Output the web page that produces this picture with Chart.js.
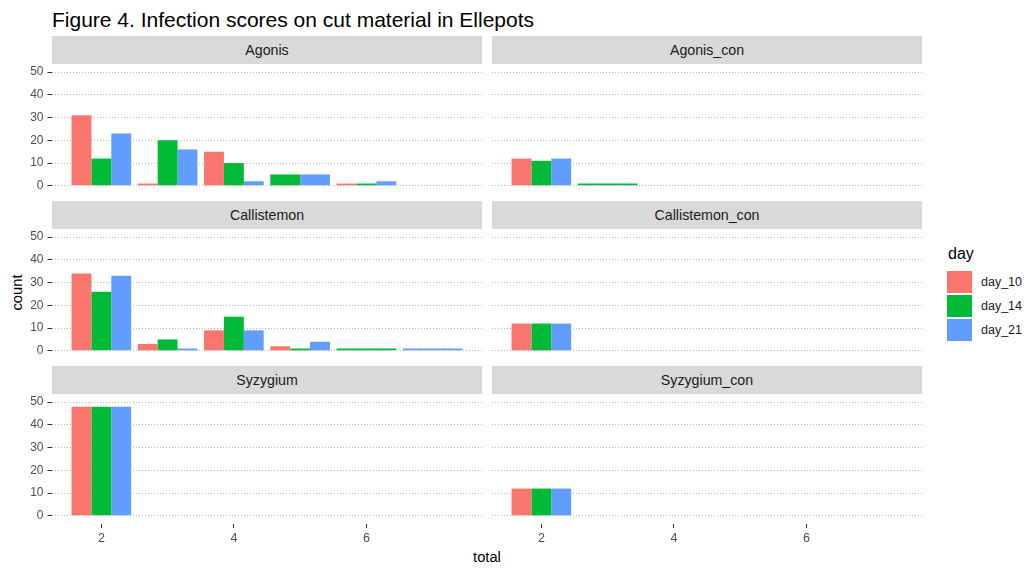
<!DOCTYPE html>
<html>
<head>
<meta charset="utf-8">
<script src="https://cdn.jsdelivr.net/npm/chart.js@4.4.1/dist/chart.umd.min.js"></script>
<style>
  html, body { margin: 0; padding: 0; background: #fff; }
  body { width: 1036px; height: 569px; position: relative; overflow: hidden;
         font-family: "Liberation Sans", Arial, sans-serif; }
  .txt { position: absolute; white-space: nowrap; }
  .strip { position: absolute; background: #d9d9d9; color: #1a1a1a; font-size: 14.2px;
           display: flex; align-items: center; justify-content: center; }
  .key { position: absolute; width: 25px; height: 22px; }
  .keylab { position: absolute; font-size: 12.5px; line-height: 22px; color: #1a1a1a; }
  canvas { position: absolute; }
</style>
</head>
<body>
<div class="txt" id="title" style="left:52px;top:9px;font-size:21px;line-height:21px;color:#000;">Figure 4. Infection scores on cut material in Ellepots</div>
<div class="txt" id="xtitle" style="left:437px;top:550px;width:100px;text-align:center;font-size:14.7px;line-height:15px;color:#000;">total</div>
<div class="txt" id="ytitle" style="left:-33px;top:285px;width:100px;text-align:center;font-size:14.7px;line-height:15px;color:#000;transform:rotate(-90deg);">count</div>
<div id="legend"></div>
<div id="panels"></div>

<script>
// x positions (the "total" score) shared by every facet
const totals = [2, 3, 4, 5, 6, 7];
const totalTicks = [2, 4, 6];
const countTicks = [0, 10, 20, 30, 40, 50];

const days = ['day_10', 'day_14', 'day_21'];
const dayColors = ['#F8766D', '#00BA38', '#619CFF'];

const panelNames = ['Agonis', 'Agonis_con', 'Callistemon', 'Callistemon_con', 'Syzygium', 'Syzygium_con'];

// counts per facet and day, aligned with `totals` (null = nothing recorded)
const agonisDay10 = [31, 1, 15, null, 1, null];
const agonisDay14 = [12, 20, 10, 5, 1, null];
const agonisDay21 = [23, 16, 2, 5, 2, null];

const agonisConDay10 = [12, null, null, null, null, null];
const agonisConDay14 = [11, 1, null, null, null, null];
const agonisConDay21 = [12, null, null, null, null, null];

const callistemonDay10 = [34, 3, 9, 2, null, null];
const callistemonDay14 = [26, 5, 15, 1, 1, null];
const callistemonDay21 = [33, 1, 9, 4, null, 1];

const callistemonConDay10 = [12, null, null, null, null, null];
const callistemonConDay14 = [12, null, null, null, null, null];
const callistemonConDay21 = [12, null, null, null, null, null];

const syzygiumDay10 = [48, null, null, null, null, null];
const syzygiumDay14 = [48, null, null, null, null, null];
const syzygiumDay21 = [48, null, null, null, null, null];

const syzygiumConDay10 = [12, null, null, null, null, null];
const syzygiumConDay14 = [12, null, null, null, null, null];
const syzygiumConDay21 = [12, null, null, null, null, null];

const panelSeries = [
  [agonisDay10, agonisDay14, agonisDay21],
  [agonisConDay10, agonisConDay14, agonisConDay21],
  [callistemonDay10, callistemonDay14, callistemonDay21],
  [callistemonConDay10, callistemonConDay14, callistemonConDay21],
  [syzygiumDay10, syzygiumDay14, syzygiumDay21],
  [syzygiumConDay10, syzygiumConDay14, syzygiumConDay21]
];

// ---- layout of the facet grid ----
const X_MIN = 1.255, X_MAX = 7.745;
const Y_MIN = -3.6, Y_MAX = 53.6;
const colLeft = [52, 492];
const panelW = 430;
const rowTop = [64, 229, 394];   // top of each plotting area
const panelH = 130;
const stripH = 28;
const yAxisW = 52;
const xAxisH = 30;
const pad = 8;

Chart.defaults.font.family = '"Liberation Sans", Arial, sans-serif';

// legend
const legend = document.getElementById('legend');
legend.innerHTML = '<div class="txt" style="left:948px;top:246px;font-size:16px;line-height:16px;color:#000;">day</div>';
days.forEach((d, k) => {
  const top = 271 + k * 24;
  legend.innerHTML += `<div class="key" style="left:947px;top:${top}px;background:${dayColors[k]}"></div>` +
                      `<div class="keylab" style="left:981px;top:${top}px;">${d}</div>`;
});

const host = document.getElementById('panels');

panelNames.forEach((name, idx) => {
  const col = idx % 2, row = Math.floor(idx / 2);
  const bottomRow = row === 2, leftCol = col === 0;

  const strip = document.createElement('div');
  strip.className = 'strip';
  strip.style.left = colLeft[col] + 'px';
  strip.style.top = (rowTop[row] - stripH) + 'px';
  strip.style.width = panelW + 'px';
  strip.style.height = stripH + 'px';
  strip.textContent = name;
  host.appendChild(strip);

  const cv = document.createElement('canvas');
  const left = leftCol ? colLeft[col] - yAxisW : colLeft[col];
  const width = panelW + (leftCol ? yAxisW : 0);
  const top = rowTop[row] - pad;
  const height = pad + panelH + (bottomRow ? xAxisH : pad);
  cv.width = width; cv.height = height;
  cv.style.left = left + 'px'; cv.style.top = top + 'px';
  cv.style.width = width + 'px'; cv.style.height = height + 'px';
  host.appendChild(cv);

  const series = panelSeries[idx];

  new Chart(cv, {
    type: 'bar',
    data: {
      datasets: days.map((d, k) => ({
        label: d,
        data: totals.map((t, i) => ({ x: t, y: series[k][i] })),
        backgroundColor: dayColors[k],
        borderWidth: 0,
        categoryPercentage: 0.9,
        barPercentage: 1.0,
        skipNull: true
      }))
    },
    options: {
      responsive: false,
      animation: false,
      devicePixelRatio: 1,
      events: [],
      layout: { padding: { top: pad, bottom: bottomRow ? 0 : pad, left: 0, right: 0 } },
      plugins: { legend: { display: false }, tooltip: { enabled: false } },
      scales: {
        x: {
          type: 'linear',
          min: X_MIN, max: X_MAX,
          offset: false,
          afterBuildTicks: s => { s.ticks = totalTicks.map(v => ({ value: v })); },
          afterFit: s => { s.height = bottomRow ? xAxisH : 0; s.paddingLeft = 0; s.paddingRight = 0; },
          grid: { display: bottomRow, offset: false, drawOnChartArea: false, drawTicks: true, tickLength: 4,
                  tickColor: '#333333', tickWidth: 1 },
          border: { display: false },
          ticks: { display: bottomRow, color: '#4d4d4d', font: { size: 12.5 }, padding: 3,
                   maxRotation: 0, autoSkip: false }
        },
        y: {
          type: 'linear',
          min: Y_MIN, max: Y_MAX,
          afterBuildTicks: s => { s.ticks = countTicks.map(v => ({ value: v })); },
          afterFit: s => { s.width = leftCol ? yAxisW : 0; s.paddingTop = 0; s.paddingBottom = 0; },
          grid: { color: '#bdbdbd', lineWidth: 1, drawTicks: leftCol, tickLength: 4.5,
                  tickColor: '#333333', tickWidth: 1, tickBorderDash: [] },
          border: { display: false, dash: [1, 2] },
          ticks: { display: leftCol, color: '#4d4d4d', font: { size: 12 }, padding: 4 }
        }
      }
    }
  });
});
</script>
</body>
</html>
